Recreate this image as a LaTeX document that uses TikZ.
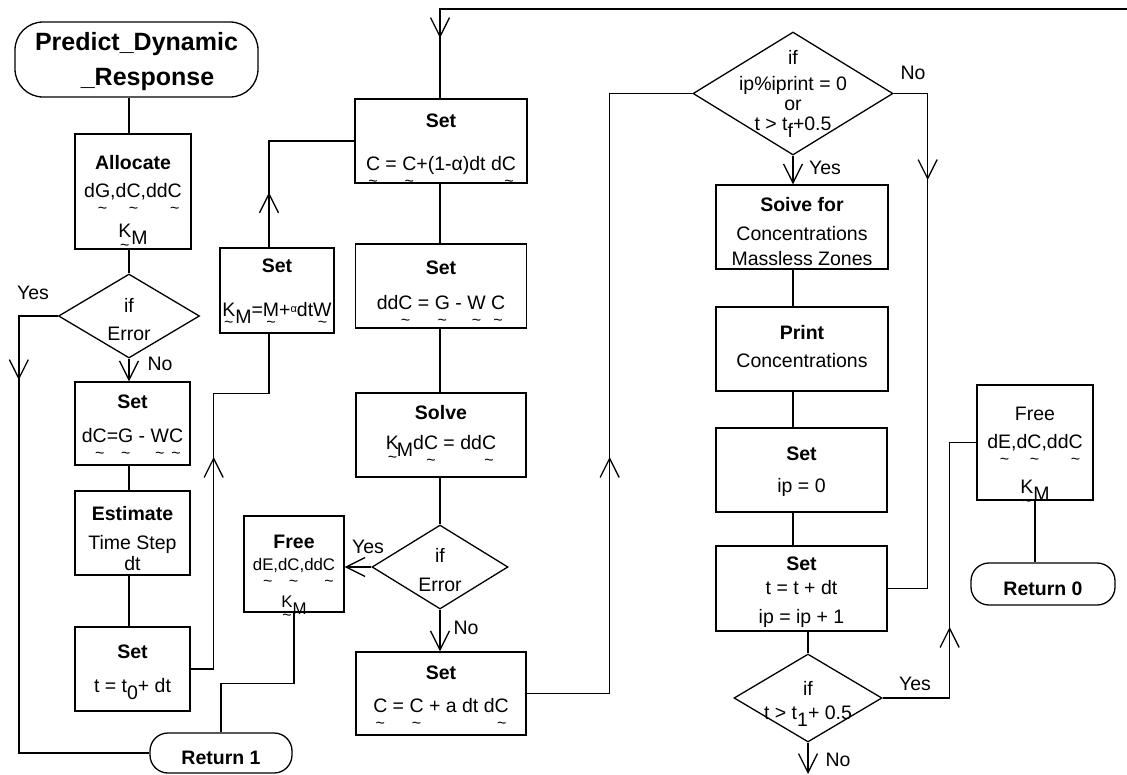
\documentclass[tikz,border=0pt]{standalone}
\usepackage{fontspec}
\setmainfont{Liberation Sans}
\usetikzlibrary{shapes.geometric,arrows.meta,decorations.markings,calc}

\newcommand\zb[2][0]{\makebox[0pt]{\raisebox{\dimexpr#1pt-3pt\relax}[0pt][0pt]{\begin{tabular}{@{}c@{}}#2\end{tabular}}}}
\newcommand\tl[2][16]{\setbox0=\hbox{#2}\rlap{\hbox to \wd0{\hss\raisebox{-#1pt}[0pt][0pt]{\fontsize{16}{16}\selectfont\textasciitilde}\hss}}\box0\relax}
\newcommand\sub[1]{\raisebox{-0.4em}{#1}}
\newcommand\fs{\fontsize{19.5}{22}\selectfont}

\tikzset{
  box/.style={draw, rectangle, inner sep=0pt, line width=1.3pt, font=\fs},
  dia/.style={draw, diamond, inner sep=0pt, line width=1.3pt, font=\fs},
  term/.style={draw, rectangle, rounded corners=18pt, inner sep=0pt, line width=1.3pt, font=\fs\bfseries},
  conn/.style={line width=1.3pt},
  endarrow/.style={-{Straight Barb[length=19pt,width=19pt]}},
  midarrow/.style={postaction={decorate}, decoration={markings, mark=at position #1 with {\arrow{Straight Barb[length=19pt,width=19pt]}}}},
  lab/.style={font=\fs, inner sep=0pt},
}

\begin{document}
\begin{tikzpicture}[x=1pt,y=-1pt]
\fill[white] (0,0) rectangle (1127,774);
\useasboundingbox (0,0) rectangle (1127,774);

% column 1
\node[term, minimum width=243pt, minimum height=75pt, rounded corners=28pt, font=\fontsize{25}{28}\selectfont\bfseries] (predict) at (136.5,59.5) {\zb[-6.5]{Predict\_Dynamic\\[7pt]\hspace*{22pt}\_Response}};
\node[box, minimum width=116pt, minimum height=115pt] (allocate) at (133,191.5) {\zb[-10]{\textbf{Allocate}\\[6pt]d\tl{G},d\tl{C},dd\tl{C}\\[18pt]\tl[13]{K}\sub{M}}};
\node[dia, minimum width=141pt, minimum height=84pt] (d1) at (129,316) {\zb[-8.5]{if\\[6pt]Error}};
\node[box, minimum width=115pt, minimum height=83pt] (setdc) at (132.5,423.5) {\zb[0]{\textbf{Set}\\[12pt]d\tl{C}=\tl{G} - \tl{W}\tl{C}}};
\node[box, minimum width=115pt, minimum height=84pt] (estimate) at (132.5,533) {\zb[-10.5]{\textbf{Estimate}\\[7pt]Time Step\\[-1pt]dt}};
\node[box, minimum width=115pt, minimum height=84pt] (sett0) at (132.5,669) {\zb[-4.5]{\textbf{Set}\\[12pt]t = t\sub{0}+ dt}};

% column 2
\node[box, minimum width=114pt, minimum height=85pt] (setkm) at (277,290.5) {\zb[-2]{\textbf{Set}\\[22pt]\tl[11]{K}\sub{M}=\tl[11]{M}+\raisebox{4pt}{\fontsize{11}{11}\selectfont α}dt\tl[11]{W}}};
\node[box, minimum width=100pt, minimum height=96pt] (freeL) at (294,564) {\zb[-12]{\textbf{Free}\\[0pt]{\fontsize{16.8}{20}\selectfont d\tl{E},d\tl{C},dd\tl{C}}\\[15pt]{\fontsize{16.8}{20}\selectfont\tl[13]{K}\sub{M}}}};
\node[term, minimum width=142pt, minimum height=40pt] (ret1) at (221,753) {\zb[-9.5]{Return 1}};

% column 3
\node[box, minimum width=172pt, minimum height=84pt] (setc) at (441,141) {\zb[-6]{\textbf{Set}\\[21pt]\tl{C} = \tl{C}+(1-α)dt d\tl{C}}};
\node[box, minimum width=171pt, minimum height=84pt] (setddc) at (441,286) {\zb[-4]{\textbf{Set}\\[13pt]dd\tl{C} = \tl{G} - \tl{W} \tl{C}}};
\node[box, minimum width=170pt, minimum height=84pt] (solve) at (441,435) {\zb[2.5]{\textbf{Solve}\\[8pt]\tl[13]{K}\kern-2pt\sub{M}d\tl{C} = dd\tl{C}}};
\node[dia, minimum width=136pt, minimum height=84pt] (d2) at (440,567) {\zb[-8]{if\\[7pt]Error}};
\node[box, minimum width=170pt, minimum height=83pt] (setca) at (441,693.5) {\zb[-0.5]{\textbf{Set}\\[11pt]\tl{C} = \tl{C} + a dt d\tl{C}}};

% column 4
\node[dia, minimum width=200pt, minimum height=123pt] (d3) at (793,93.5) {\zb[-2]{if\\[4pt]ip\%iprint = 0\\[-2pt]or\\[-2pt]t > t\sub{f}+0.5}};
\node[box, minimum width=172pt, minimum height=84pt] (solvefor) at (802,227) {\zb[-9.5]{\textbf{Soive for}\\[7pt]Concentrations\\[3pt]Massless Zones}};
\node[box, minimum width=172pt, minimum height=84pt] (print) at (802,349) {\zb[-2.5]{\textbf{Print}\\[6pt]Concentrations}};
\node[box, minimum width=171pt, minimum height=84pt] (setip) at (801.5,470) {\zb[-4.5]{\textbf{Set}\\[10pt]ip = 0}};
\node[box, minimum width=171pt, minimum height=85pt] (settdt) at (801.5,588.5) {\zb[-6.5]{\textbf{Set}\\[2pt]t = t + dt\\[7pt]ip = ip + 1}};
\node[dia, minimum width=148pt, minimum height=88pt] (d4) at (808,698) {\zb[-7.5]{if\\[2pt]t > t\sub{1}+ 0.5}};

% column 5
\node[box, minimum width=116pt, minimum height=115pt] (freeR) at (1035,442.5) {\zb[-12.5]{Free\\[6pt]d\tl{E},d\tl{C},dd\tl{C}\\[23pt]\tl[13]{K}\sub{M}}};
\node[term, minimum width=144pt, minimum height=42pt] (ret0) at (1043,584) {\zb[-9.5]{Return 0}};

% labels
\node[lab] (y1) at (33,293) {Yes};
\node[lab] (n1) at (160,364) {No};
\node[lab] (y2) at (368,547) {Yes};
\node[lab] (n2) at (466,628) {No};
\node[lab] (n3) at (913,73) {No};
\node[lab] (y3) at (825,168) {Yes};
\node[lab] (y4) at (915,684) {Yes};
\node[lab] (n4) at (838,760) {No};

\coordinate (loop) at (1127,9);
\coordinate (exit) at (808,774);

% connectors column 1
\draw[conn] (d1.north |- predict.south) -- (d1.north |- allocate.north);
\draw[conn] (d1.north |- allocate.south) -- (d1.north);
\draw[conn, endarrow] (d1.south) -- (d1.south |- setdc.north);
\draw[conn] (d1.south |- setdc.south) -- (d1.south |- estimate.north);
\draw[conn] (d1.south |- estimate.south) -- (d1.south |- sett0.north);
\draw[conn, midarrow=103pt] (d1.west) -- ++(-39,0) |- (ret1.west);
\draw[conn, midarrow=235pt] (sett0.east) -- ++(23,0) |- ($(setkm.south)+(-8,60)$) -- ($(setkm.south)+(-8,0)$);
\draw[conn, midarrow=55pt] ($(setkm.north)+(-8,0)$) |- (setc.west);
\draw[conn] (freeL.south) -- ++(0,71) -| (ret1.north);

% column 3
\draw[conn, endarrow] (d2.west) -- (d2.west -| freeL.east);
\draw[conn, endarrow] (d2.south) -- (d2.south |- setca.north);
\draw[conn] (d2.north |- setc.south) -- (d2.north |- setddc.north);
\draw[conn] (d2.north |- setddc.south) -- (d2.north |- solve.north);
\draw[conn] (d2.north |- solve.south) -- (d2.north);
\draw[conn, midarrow=716pt] (loop) -| (d2.north |- setc.north);
\draw[conn, midarrow=319.5pt] (setca.east) -- ++(83,0) |- (d3.west);

% column 4
\draw[conn, endarrow] (d3.south) -- (d3.south |- solvefor.north);
\draw[conn] (d3.south |- solvefor.south) -- (d3.south |- print.north);
\draw[conn] (d3.south |- print.south) -- (d3.south |- setip.north);
\draw[conn] (d3.south |- setip.south) -- (d3.south |- settdt.north);
\draw[conn, midarrow=120.5pt] (d3.east) -- ++(34,0) |- (settdt.east);
\draw[conn] (d4.north |- settdt.south) -- (d4.north);
\draw[conn, endarrow] (d4.south) -- (exit);
\draw[conn, midarrow=138pt] (d4.east) -- ++(67,0) |- (freeR.west);
\draw[conn] (freeR.south) -- (freeR.south |- ret0.north);
\end{tikzpicture}
\end{document}
